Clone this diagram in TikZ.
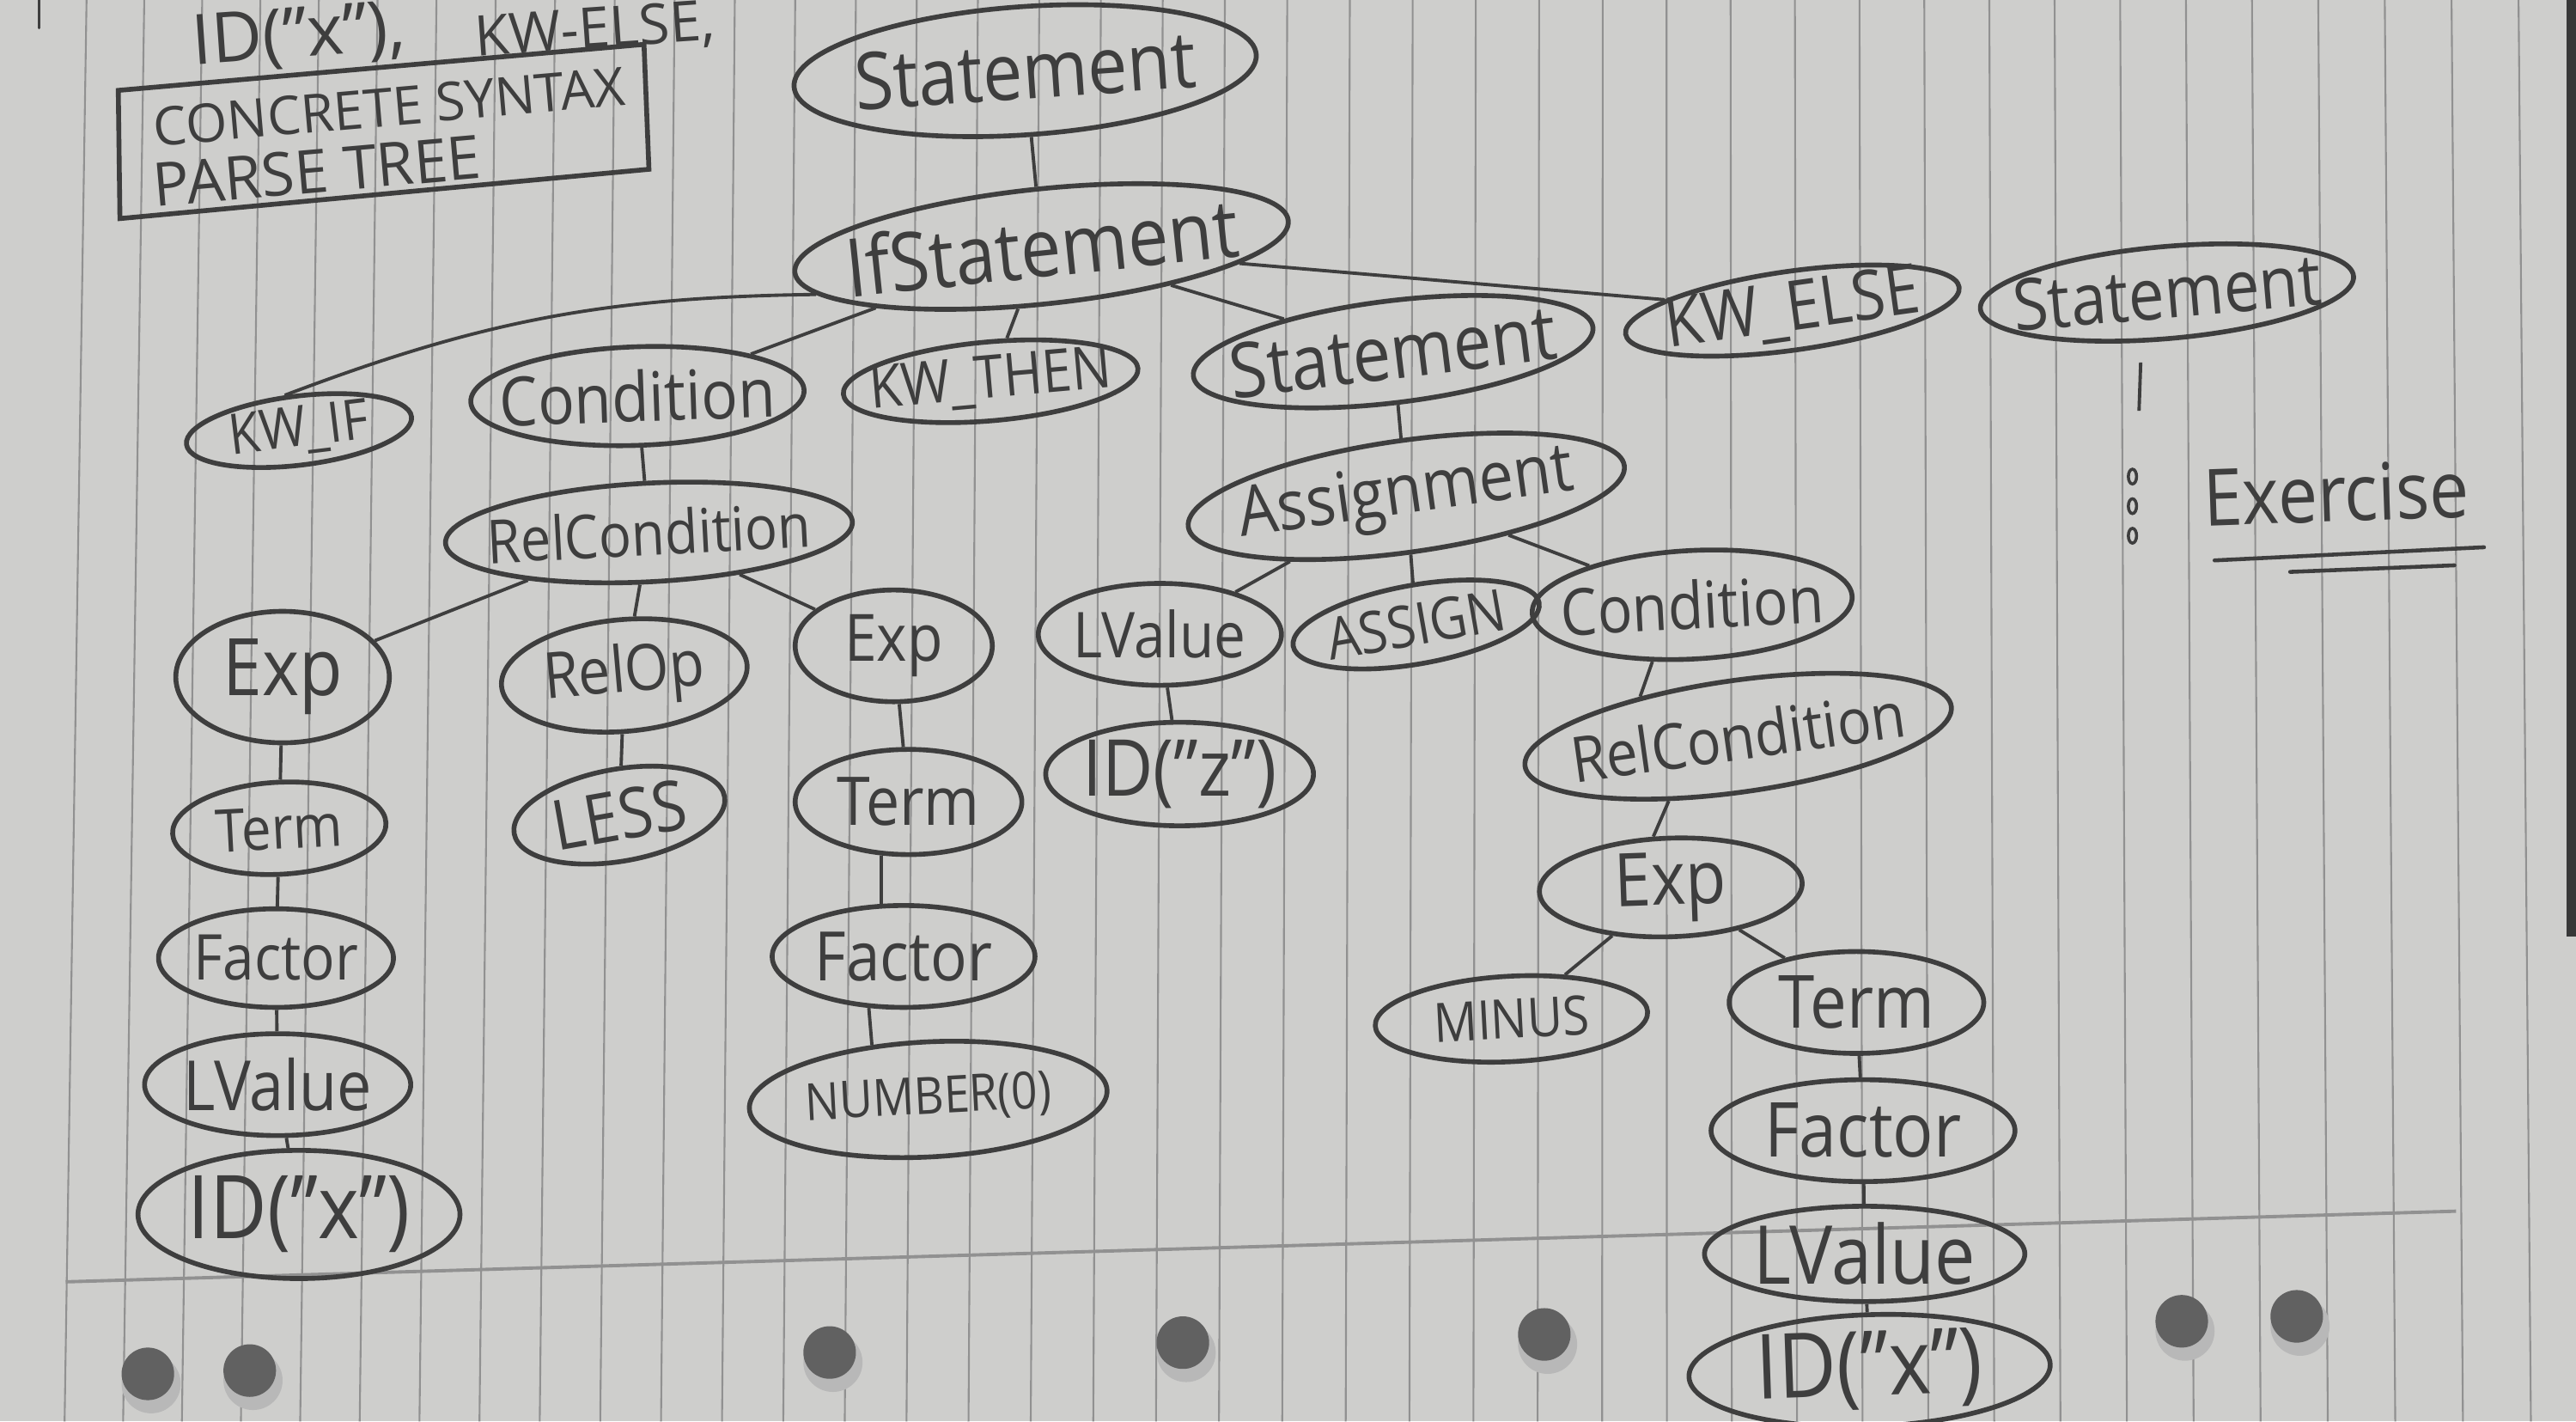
\documentclass[tikz,border=0pt]{standalone}
\usepackage{fontspec}
\setmainfont{Open Sans}
\usetikzlibrary{shapes.geometric}
\newlength\myu
\setlength\myu{0.19126mm}
\newcommand\fitw[3][1.12]{\makebox[0pt]{\smash{\raisebox{\dimexpr(\depth-\height)/2\relax}{\scalebox{1}[#1]{\resizebox{#2\myu}{!}{#3}}}}}}
\definecolor{paper}{RGB}{206,206,204}
\definecolor{rulec}{RGB}{145,145,145}
\definecolor{ink}{RGB}{62,62,62}
\begin{document}
\begin{tikzpicture}[x=0.19126mm, y=-0.19126mm,
  ov/.style={ellipse, draw=ink, line width=1.6pt, inner sep=0pt, text=ink},
  edge/.style={draw=ink, line width=1.1pt},
  deco/.style={draw=ink, line width=1.3pt, line cap=round},
  lbl/.style={inner sep=0pt, text=ink}]
\useasboundingbox (0,0) rectangle (1568,865);
% paper
\fill[paper] (0,0) rectangle (1568,865);
\foreach \k in {0,...,39}{
  \pgfmathsetmacro\xm{46+35.3*\k+0.075*\k*\k}
  \pgfmathsetmacro\xt{\xm-(\xm-1000)*0.007}
  \pgfmathsetmacro\xb{\xm+(\xm-1000)*0.007}
  \draw[rulec, line width=0.6pt] (\xt,0) -- (\xb,865);
}
\draw[rulec, line width=1.1pt] (40,780) -- (1495,737);
\fill[black!78] (1562,0) rectangle (1568,570);
\foreach \hx/\hy in {90/836,152/834,505/823,720/817,940/812,1328/804,1398/801}{
  \fill[black!28] (\hx+2,\hy+6) circle [radius=18];
  \fill[black!62] (\hx,\hy) circle [radius=16];
}
\draw[deco, line width=0.9pt] (24,0) -- (24,17);

% title block
\node[lbl, rotate=4] (toptextA) at (182,23) {\fitw[1]{130}{ID("x"),}};
\node[lbl, rotate=4] (toptextB) at (362,19) {\fitw[1]{146}{KW-ELSE,}};
\draw[deco, line width=1.6pt] (72,55) -- (392,27) -- (395,103) -- (73,133) -- cycle;
\node[lbl, rotate=5] (title1) at (237,65) {\fitw[1]{288}{CONCRETE SYNTAX}};
\node[lbl, rotate=5] (title2) at (193,104) {\fitw[1]{200}{PARSE TREE}};

% tree nodes
\node[ov, minimum width=282\myu, minimum height=78\myu, rotate=4] (root) at (624,43) {\fitw{208}{Statement}};
\node[ov, minimum width=302\myu, minimum height=70\myu, rotate=6] (ifs) at (634,150) {\fitw{240}{IfStatement}};
\node[ov, minimum width=138\myu, minimum height=42\myu, rotate=7] (kwif) at (182,262) {\fitw{85}{KW\_IF}};
\node[ov, minimum width=203\myu, minimum height=60\myu, rotate=2] (condL) at (388,241) {\fitw{168}{Condition}};
\node[ov, minimum width=180\myu, minimum height=48\myu, rotate=5] (kwthen) at (603,232) {\fitw{148}{KW\_THEN}};
\node[ov, minimum width=245\myu, minimum height=62\myu, rotate=7] (stmtM) at (848,214) {\fitw{200}{Statement}};
\node[ov, minimum width=205\myu, minimum height=48\myu, rotate=8] (kwelse) at (1091,189) {\fitw{156}{KW\_ELSE}};
\node[ov, minimum width=228\myu, minimum height=56\myu, rotate=5] (stmtR) at (1319,178) {\fitw{188}{Statement}};

\node[ov, minimum width=248\myu, minimum height=60\myu, rotate=3] (relL) at (395,324) {\fitw{197}{RelCondition}};
\node[ov, minimum width=130\myu, minimum height=80\myu] (expL) at (172,412) {\fitw{73}{Exp}};
\node[ov, minimum width=150\myu, minimum height=68\myu, rotate=5] (relop) at (380,411) {\fitw{98}{RelOp}};
\node[ov, minimum width=120\myu, minimum height=68\myu] (expM) at (544,393) {\fitw{60}{Exp}};
\node[ov, minimum width=130\myu, minimum height=56\myu, rotate=3] (termL) at (170,504) {\fitw{77}{Term}};
\node[ov, minimum width=130\myu, minimum height=56\myu, rotate=10] (less) at (377,496) {\fitw{82}{LESS}};
\node[ov, minimum width=138\myu, minimum height=64\myu] (termM) at (553,488) {\fitw{87}{Term}};
\node[ov, minimum width=143\myu, minimum height=60\myu] (factL) at (168,583) {\fitw{100}{Factor}};
\node[ov, minimum width=160\myu, minimum height=62\myu] (factM) at (550,582) {\fitw{108}{Factor}};
\node[ov, minimum width=162\myu, minimum height=62\myu] (lvalL) at (169,660) {\fitw{115}{LValue}};
\node[ov, minimum width=218\myu, minimum height=70\myu, rotate=3] (num) at (565,669) {\fitw{150}{NUMBER(0)}};
\node[ov, minimum width=196\myu, minimum height=78\myu] (idxL) at (182,739) {\fitw{135}{ID("x")}};

\node[ov, minimum width=268\myu, minimum height=68\myu, rotate=8] (asg) at (856,302) {\fitw{205}{Assignment}};
\node[ov, minimum width=148\myu, minimum height=62\myu] (lvalM) at (706,386) {\fitw{105}{LValue}};
\node[ov, minimum width=152\myu, minimum height=48\myu, rotate=10] (asgtok) at (862,380) {\fitw{110}{ASSIGN}};
\node[ov, minimum width=195\myu, minimum height=66\myu, rotate=3] (condR) at (1030,368) {\fitw{160}{Condition}};
\node[ov, minimum width=163\myu, minimum height=63\myu] (idz) at (718,471) {\fitw{118}{ID("z")}};
\node[ov, minimum width=262\myu, minimum height=68\myu, rotate=8] (relR) at (1058,448) {\fitw{205}{RelCondition}};
\node[ov, minimum width=160\myu, minimum height=60\myu, rotate=2] (expR) at (1017,540) {\fitw{68}{Exp}};
\node[ov, minimum width=166\myu, minimum height=52\myu, rotate=3] (minus) at (920,620) {\fitw{95}{MINUS}};
\node[ov, minimum width=155\myu, minimum height=62\myu] (termR) at (1130,610) {\fitw{95}{Term}};
\node[ov, minimum width=185\myu, minimum height=62\myu] (factR) at (1134,688) {\fitw{120}{Factor}};
\node[ov, minimum width=195\myu, minimum height=58\myu] (lvalR) at (1135,763) {\fitw{135}{LValue}};
\node[ov, minimum width=220\myu, minimum height=68\myu, rotate=2] (idxR) at (1138,834) {\fitw{138}{ID("x")}};

% connectors
\draw[edge] (root) -- (ifs);
\draw[edge] (ifs.186) to[bend right=10] (kwif.105);
\draw[edge] (ifs) -- (condL);
\draw[edge] (ifs) -- (kwthen);
\draw[edge] (ifs) -- (stmtM);
\draw[edge] (ifs) -- (kwelse);
\draw[edge] (condL) -- (relL);
\draw[edge] (relL) -- (expL);
\draw[edge] (relL) -- (relop);
\draw[edge] (relL) -- (expM);
\draw[edge] (expL) -- (termL);
\draw[edge] (termL) -- (factL);
\draw[edge] (factL) -- (lvalL);
\draw[edge] (lvalL) -- (idxL);
\draw[edge] (relop) -- (less);
\draw[edge] (expM) -- (termM);
\draw[edge] (termM.243) -- (factM.113);
\draw[edge] (factM.236) -- (num.133);
\draw[edge] (stmtM) -- (asg);
\draw[edge] (asg) -- (lvalM);
\draw[edge] (asg) -- (asgtok);
\draw[edge] (asg) -- (condR);
\draw[edge] (lvalM) -- (idz);
\draw[edge] (condR.232) -- (relR.150);
\draw[edge] (relR.215) -- (expR.107);
\draw[edge] (expR) -- (minus);
\draw[edge] (expR) -- (termR);
\draw[edge] (termR) -- (factR);
\draw[edge] (factR) -- (lvalR);
\draw[edge] (lvalR) -- (idxR);

% continuation under the right Statement
\coordinate (dbot) at (1302,250);
\draw[edge, shorten <=12\myu] (stmtR.238) -- (dbot);
\foreach \dy in {290,308,326}{
  \draw[ink, line width=1pt] (1298,\dy) ellipse [x radius=2.5, y radius=4.5];
}
\node[lbl, rotate=2] (exer) at (1422,300) {\fitw{162}{Exercise}};
\draw[deco] (1348,341) -- (1512,333);
\draw[deco] (1394,348) -- (1494,344);
\end{tikzpicture}
\end{document}
